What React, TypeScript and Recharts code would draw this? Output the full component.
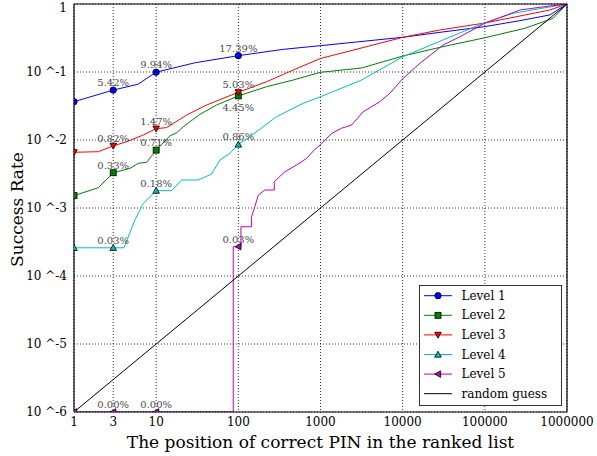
import React from 'react';
import {
  LineChart, Line, XAxis, YAxis, CartesianGrid, ReferenceLine, Legend, Label,
} from 'recharts';

// ---------- data ----------
const xTicks = [1, 3, 10, 100, 1000, 10000, 100000, 1000000];
const yTicks = [1e-6, 1e-5, 1e-4, 1e-3, 1e-2, 1e-1, 1];
const yTickLabels = ['10 ^-6', '10 ^-5', '10 ^-4', '10 ^-3', '10 ^-2', '10 ^-1', '1'];
const markerX = [1, 3, 10, 100];
const labeledX = [3, 10, 100];

const level1X = [1, 3, 6, 10, 30, 100, 360, 1000, 10000, 28400, 100000, 267000, 617000, 1000000];
const level1Y = [0.0366, 0.0542, 0.066, 0.0994, 0.137, 0.1739, 0.216, 0.244, 0.324, 0.383, 0.465, 0.569, 0.69, 1];

const level2X = [1, 1.98, 3, 4.8, 6.05, 7.67, 10, 14.7, 17.8, 21.4, 34.1, 54.4, 100, 221, 466, 1000, 3160, 10100, 31000, 100000, 307000, 677000, 1000000];
const level2Y = [0.00152, 0.00199, 0.0033, 0.00383, 0.00454, 0.0047, 0.0071, 0.0115, 0.0128, 0.0157, 0.0239, 0.0327, 0.0445, 0.0608, 0.0762, 0.099, 0.1145, 0.172, 0.236, 0.319, 0.439, 0.616, 1];

const level3X = [1, 1.98, 3, 4.37, 6.97, 10, 13.4, 23.5, 41.1, 100, 221, 466, 1000, 10100, 28400, 100000, 617000, 1000000];
const level3Y = [0.0066, 0.00673, 0.0082, 0.00944, 0.01185, 0.0147, 0.0152, 0.0233, 0.0327, 0.0503, 0.072, 0.107, 0.158, 0.324, 0.415, 0.525, 0.816, 1];

const level4X = [1, 3, 4.06, 5.52, 6.97, 10, 15.4, 20.4, 32.5, 47.3, 60, 79, 100, 138, 292, 617, 1000, 3160, 10100, 31000, 100000, 221000, 1000000];
const level4Y = [0.00026, 0.00026, 0.00026, 0.00067, 0.00117, 0.0018, 0.0018, 0.00258, 0.00258, 0.00316, 0.0051, 0.00637, 0.0086, 0.0112, 0.022, 0.0347, 0.0433, 0.0762, 0.168, 0.296, 0.531, 0.73, 1];

const level5X = [1, 3, 10, 86.7, 86.7, 100, 107.6, 107.6, 145, 145, 159, 175, 211, 274, 274, 369, 512, 677, 855, 1000, 1366, 1806, 2390, 3310, 5280, 6980, 10100, 16200, 31000, 49700, 100000, 267000, 617000, 1000000];
const level5Y = [1e-6, 1e-6, 1e-6, 1e-6, 0.00027, 0.00027, 0.00027, 0.00053, 0.00053, 0.000745, 0.00105, 0.00155, 0.00184, 0.00184, 0.00244, 0.00342, 0.00429, 0.00537, 0.0073, 0.0085, 0.0125, 0.0149, 0.0166, 0.0261, 0.0366, 0.0486, 0.0807, 0.134, 0.249, 0.33, 0.52, 0.816, 0.935, 1];

const randomX = [1, 1000000];
const randomY = [1e-6, 1];

// ---------- styling ----------
const FONT = '"DejaVu Serif", serif';

type Shape = 'circle' | 'square' | 'down' | 'up' | 'left' | 'none';

const toPoints = (xs: number[], ys: number[]) => xs.map((x, i) => ({ x, y: ys[i] }));

const series = [
  { name: 'Level 1', data: toPoints(level1X, level1Y), color: '#0000ff', shape: 'circle' as Shape, below: [] as number[] },
  { name: 'Level 2', data: toPoints(level2X, level2Y), color: '#008000', shape: 'square' as Shape, below: [100] },
  { name: 'Level 3', data: toPoints(level3X, level3Y), color: '#ff0000', shape: 'down' as Shape, below: [] as number[] },
  { name: 'Level 4', data: toPoints(level4X, level4Y), color: '#00bfbf', shape: 'up' as Shape, below: [] as number[] },
  { name: 'Level 5', data: toPoints(level5X, level5Y), color: '#bf00bf', shape: 'left' as Shape, below: [] as number[] },
];
const randomSeries = { name: 'random guess', data: toPoints(randomX, randomY), color: '#000000' };

function Marker({ shape, cx, cy, color }: { shape: Shape; cx: number; cy: number; color: string }) {
  const s = 3.3;
  const common = { fill: color, stroke: '#000', strokeWidth: 0.8 };
  switch (shape) {
    case 'circle':
      return <circle cx={cx} cy={cy} r={3.2} {...common} />;
    case 'square':
      return <rect x={cx - 3} y={cy - 3} width={6} height={6} {...common} />;
    case 'down':
      return <polygon points={`${cx - s},${cy - s * 0.8} ${cx + s},${cy - s * 0.8} ${cx},${cy + s}`} {...common} />;
    case 'up':
      return <polygon points={`${cx - s},${cy + s * 0.8} ${cx + s},${cy + s * 0.8} ${cx},${cy - s}`} {...common} />;
    case 'left':
      return <polygon points={`${cx + s * 0.8},${cy - s} ${cx + s * 0.8},${cy + s} ${cx - s},${cy}`} {...common} />;
    default:
      return null;
  }
}

const makeDot = (shape: Shape, color: string, below: number[]) => (props: any) => {
  const { cx, cy, payload, index } = props;
  if (!payload || !markerX.includes(payload.x) || cx == null || cy == null) {
    return <g key={`d-${index}`} />;
  }
  const isLabeled = labeledX.includes(payload.x);
  const isBelow = below.includes(payload.x);
  return (
    <g key={`d-${index}`}>
      <Marker shape={shape} cx={cx} cy={cy} color={color} />
      {isLabeled && (
        <text
          x={cx}
          y={isBelow ? cy + 12 : cy - 7.5}
          textAnchor="middle"
          dominantBaseline="central"
          fontFamily={FONT}
          fontSize={10}
          fill="#4a4a4a"
        >
          {(payload.y * 100).toFixed(2) + '%'}
        </text>
      )}
    </g>
  );
};

const yTickLabel = (v: number) => {
  const idx = yTicks.findIndex((t) => Math.abs(Math.log10(t) - Math.log10(v)) < 1e-6);
  return idx >= 0 ? yTickLabels[idx] : '';
};

const YTick = (props: any) => {
  const { x, y, payload } = props;
  const yy = Math.max(y, 8);
  return (
    <text x={x} y={yy} dy="0.355em" textAnchor="end" fontFamily={FONT} fontSize={12} fill="#000">
      {yTickLabel(payload.value)}
    </text>
  );
};

function LegendBox() {
  const rowH = 19.6;
  const rows = [...series.map((s) => ({ name: s.name, color: s.color, shape: s.shape })), { name: randomSeries.name, color: randomSeries.color, shape: 'none' as Shape }];
  return (
    <svg width={143} height={121} style={{ display: 'block' }}>
      <rect x={0.5} y={0.5} width={142} height={120} fill="#fff" stroke="#333" strokeWidth={1} />
      {rows.map((r, i) => {
        const y = 10.7 + i * rowH;
        return (
          <g key={r.name}>
            <line x1={5} x2={33} y1={y} y2={y} stroke={r.color} strokeWidth={1} />
            <Marker shape={r.shape} cx={19} cy={y} color={r.color} />
            <text x={42.5} y={y} dominantBaseline="central" fontFamily={FONT} fontSize={12} fill="#000">
              {r.name}
            </text>
          </g>
        );
      })}
    </svg>
  );
}

const YLabel = (props: any) => {
  const vb = props.viewBox || { x: 0, y: 4, width: 74, height: 408 };
  const x = vb.x + 23;
  const y = vb.y + vb.height / 2 + 1.5;
  return (
    <text x={x} y={y} transform={`rotate(-90 ${x} ${y})`} textAnchor="middle" fontFamily={FONT} fontSize={17} fill="#000">
      Success Rate
    </text>
  );
};

const XLabel = (props: any) => {
  const vb = props.viewBox || { x: 74, y: 412, width: 493, height: 44 };
  const x = vb.x + vb.width / 2;
  const y = vb.y + 35.5;
  return (
    <text x={x} y={y} textAnchor="middle" fontFamily={FONT} fontSize={17} fill="#000">
      The position of correct PIN in the ranked list
    </text>
  );
};

export default function App() {
  return (
    <div style={{ position: 'absolute', left: 0, top: 0, width: 597, height: 456, background: '#fff' }}>
      <LineChart width={597} height={456} margin={{ top: 4, right: 30, left: 0, bottom: 0 }}>
        <CartesianGrid stroke="#000" strokeDasharray="1 2" strokeWidth={0.8} />
        {series.map((s) => (
          <Line
            key={s.name}
            data={s.data}
            dataKey="y"
            name={s.name}
            type="linear"
            stroke={s.color}
            strokeWidth={1}
            dot={makeDot(s.shape, s.color, s.below)}
            activeDot={false}
            isAnimationActive={false}
          />
        ))}
        <Line
          data={randomSeries.data}
          dataKey="y"
          name={randomSeries.name}
          type="linear"
          stroke={randomSeries.color}
          strokeWidth={1}
          dot={false}
          activeDot={false}
          isAnimationActive={false}
        />
        <ReferenceLine y={1} stroke="#000" strokeWidth={1.2} />
        <ReferenceLine x={1000000} stroke="#000" strokeWidth={1.2} />
        <XAxis
          dataKey="x"
          type="number"
          scale="log"
          domain={[1, 1000000]}
          allowDataOverflow
          ticks={xTicks}
          interval={0}
          height={44}
          tickLine={false}
          tickSize={3}
          tickMargin={2}
          axisLine={{ stroke: '#000', strokeWidth: 1.2 }}
          tick={{ fontFamily: FONT, fontSize: 12, fill: '#000' }}
        >
          <Label content={<XLabel />} />
        </XAxis>
        <YAxis
          type="number"
          scale="log"
          domain={[1e-6, 1]}
          allowDataOverflow
          ticks={yTicks}
          interval={0}
          width={74}
          tickLine={false}
          tickSize={4}
          tickMargin={3}
          axisLine={{ stroke: '#000', strokeWidth: 1.2 }}
          tick={<YTick />}
        >
          <Label content={<YLabel />} />
        </YAxis>
        <Legend
          layout="vertical"
          align="center"
          verticalAlign="middle"
          wrapperStyle={{ left: 419, top: 285, width: 143, height: 121 }}
          content={() => <LegendBox />}
        />
      </LineChart>
    </div>
  );
}
